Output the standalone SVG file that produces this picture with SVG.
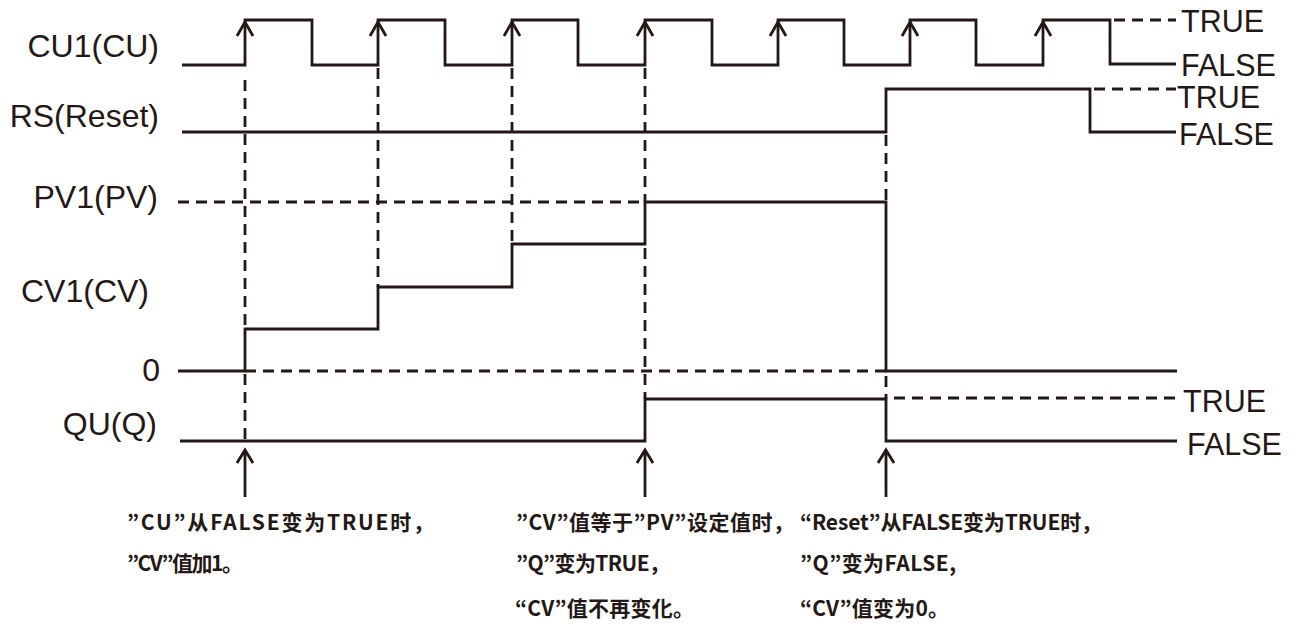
<svg xmlns="http://www.w3.org/2000/svg" width="1299" height="630" viewBox="0 0 1299 630">
<style>
.sig{fill:none;stroke:#231815;stroke-width:2.8;stroke-linejoin:miter;stroke-linecap:butt}
.dash{fill:none;stroke:#231815;stroke-width:2.8;stroke-dasharray:11 7}
.arr{fill:none;stroke:#231815;stroke-width:2.8;stroke-linejoin:miter}
.lab{font-family:"Liberation Sans",Arial,sans-serif;font-size:32px;fill:#231815}
.rl{font-family:"Liberation Sans",Arial,sans-serif;font-size:30.5px;fill:#231815}
.note{font-family:"Noto Sans CJK JP","Noto Sans CJK SC",sans-serif;font-size:21px;font-weight:bold;fill:#231815}
</style>
<rect width="1299" height="630" fill="#ffffff"/>

<g id="labels-left">
<text class="lab" x="159" y="57" text-anchor="end">CU1(CU)</text>
<text class="lab" x="159" y="127" text-anchor="end">RS(Reset)</text>
<text class="lab" x="158" y="208" text-anchor="end">PV1(PV)</text>
<text class="lab" x="149" y="302" text-anchor="end">CV1(CV)</text>
<text class="lab" x="160" y="381" text-anchor="end">0</text>
<text class="lab" x="157" y="435" text-anchor="end">QU(Q)</text>
</g>

<g id="labels-right">
<text class="rl" x="1181" y="32">TRUE</text>
<text class="rl" x="1181" y="76">FALSE</text>
<text class="rl" x="1177" y="108">TRUE</text>
<text class="rl" x="1179" y="145">FALSE</text>
<text class="rl" x="1183" y="412">TRUE</text>
<text class="rl" x="1187" y="455">FALSE</text>
</g>

<g id="cu1">
<path class="sig" d="M182,65 H245 V20 H312 V65 H378 V20 H445 V65 H512 V20 H578 V65 H645 V20 H712 V65 H778 V20 H844 V65 H910 V20 H976 V65 H1043 V20 H1110 V64 H1176"/>
<path class="dash" d="M1114,20 H1176"/>
</g>

<g id="rs">
<path class="sig" d="M182,132 H886 V89 H1090 V132 H1176"/>
<path class="dash" d="M1094,89 H1176"/>
</g>

<g id="cv">
<path class="dash" d="M178,202 H645"/>
<path class="dash" d="M245,371 H886"/>
<path class="sig" d="M178,371 H245 V329 H378 V287 H512 V244 H645 V202 H886 V371 H1177"/>
</g>

<g id="qu">
<path class="sig" d="M180,441 H645 V399 H886 V441 H1177"/>
<path class="dash" d="M894,398 H1177"/>
</g>

<g id="connectors">
<path class="dash" d="M245,80 V329 M245,374 V441"/>
<path class="dash" d="M378,68 V287"/>
<path class="dash" d="M512,68 V244"/>
<path class="dash" d="M645,68 V202 M645,248 V399"/>
<path class="dash" d="M886,135 V202 M886,376 V399"/>
<g class="arr">
<polyline points="237,36 245,22 253,36"/>
<polyline points="370,36 378,22 386,36"/>
<polyline points="504,36 512,22 520,36"/>
<polyline points="637,36 645,22 653,36"/>
<polyline points="770,36 778,22 786,36"/>
<polyline points="902,36 910,22 918,36"/>
<polyline points="1035,36 1043,22 1051,36"/>
<path d="M245,450 V497 M237,463 L245,450 L253,463"/>
<path d="M645,450 V497 M637,463 L645,450 L653,463"/>
<path d="M886,450 V497 M878,463 L886,450 L894,463"/>
</g>
</g>

<g id="note-cu">
<text class="note" x="127" y="530" textLength="307" lengthAdjust="spacing">”CU”从FALSE变为TRUE时，</text>
<text class="note" x="127" y="571" textLength="116" lengthAdjust="spacing">”CV”值加1。</text>
</g>
<g id="note-q">
<text class="note" x="516" y="530" textLength="278" lengthAdjust="spacing">”CV”值等于”PV”设定值时，</text>
<text class="note" x="516" y="571" textLength="154" lengthAdjust="spacing">”Q”变为TRUE，</text>
<text class="note" x="515" y="616" textLength="179" lengthAdjust="spacing">“CV”值不再变化。</text>
</g>
<g id="note-reset">
<text class="note" x="800" y="530" textLength="302" lengthAdjust="spacing">“Reset”从FALSE变为TRUE时，</text>
<text class="note" x="800" y="571" textLength="156" lengthAdjust="spacing">”Q”变为FALSE,</text>
<text class="note" x="800" y="616" textLength="149" lengthAdjust="spacing">“CV”值变为0。</text>
</g>
</svg>
